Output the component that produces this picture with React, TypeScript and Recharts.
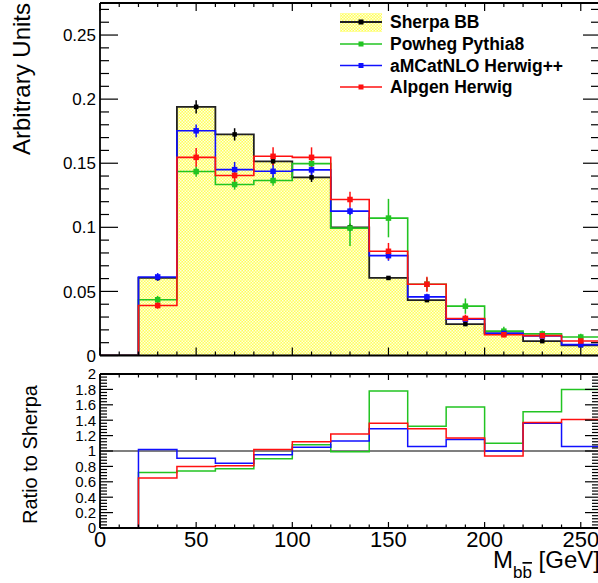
import React from "react";
import { ComposedChart, Line, Area, Scatter, ErrorBar, XAxis, YAxis, ReferenceLine } from "recharts";

// ---- data ----
const binEdges = [0, 20, 40, 60, 80, 100, 120, 140, 160, 180, 200, 220, 240, 260];
const binCenters = [10, 30, 50, 70, 90, 110, 130, 150, 170, 190, 210, 230, 250];

const sherpa = [0, 0.0605, 0.194, 0.1725, 0.1515, 0.139, 0.1, 0.0605, 0.0432, 0.0245, 0.0173, 0.0112, 0.008];
const sherpaErr = [0, 0.002, 0.0052, 0.0048, 0.003, 0.0036, 0.003, 0.0015, 0.0015, 0.0012, 0.001, 0.001, 0.001];

const powheg = [0, 0.0435, 0.1435, 0.1334, 0.1365, 0.1497, 0.0994, 0.1072, 0.0556, 0.0385, 0.019, 0.0169, 0.0144];
const powhegErr = [0, 0.003, 0.004, 0.004, 0.004, 0.004, 0.014, 0.015, 0.005, 0.006, 0.0035, 0.0025, 0.0025];

const amcatnlo = [0, 0.0613, 0.1753, 0.145, 0.1437, 0.1448, 0.1126, 0.0779, 0.0457, 0.0283, 0.0173, 0.0152, 0.0085];
const amcatnloErr = [0, 0.003, 0.005, 0.006, 0.005, 0.005, 0.003, 0.004, 0.0025, 0.002, 0.0015, 0.0015, 0.0015];

const alpgen = [0, 0.039, 0.1546, 0.1404, 0.1554, 0.1546, 0.1217, 0.0813, 0.0556, 0.0289, 0.0162, 0.0155, 0.0113];
const alpgenErr = [0, 0.0025, 0.0073, 0.005, 0.007, 0.0078, 0.006, 0.0065, 0.0058, 0.003, 0.002, 0.002, 0.002];

const ratioPowheg = [0, 0.72, 0.74, 0.77, 0.9, 1.08, 0.99, 1.78, 1.32, 1.57, 1.1, 1.51, 1.8];
const ratioAmcatnlo = [0, 1.02, 0.905, 0.84, 0.95, 1.05, 1.13, 1.29, 1.06, 1.15, 1.0, 1.36, 1.06];
const ratioAlpgen = [0, 0.65, 0.8, 0.81, 1.02, 1.12, 1.22, 1.36, 1.29, 1.17, 0.935, 1.37, 1.41];

// ---- tick labels ----
const xMajorTicks = [0, 50, 100, 150, 200, 250];
const xMajorLabels = ["0", "50", "100", "150", "200", "250"];
const xMinorTicks = Array.from({ length: 27 }, (_, i) => i * 10);
const topYMajor = [0, 0.05, 0.1, 0.15, 0.2, 0.25];
const topYLabels = ["0", "0.05", "0.1", "0.15", "0.2", "0.25"];
const topYMinor = Array.from({ length: 28 }, (_, i) => i / 100);
const ratioYMajor = [0, 0.2, 0.4, 0.6, 0.8, 1, 1.2, 1.4, 1.6, 1.8, 2];
const ratioYLabels = ["0", "0.2", "0.4", "0.6", "0.8", "1", "1.2", "1.4", "1.6", "1.8", "2"];
const ratioYMinor = Array.from({ length: 51 }, (_, i) => Math.round(i * 4) / 100);

const legendNames = ["Sherpa BB", "Powheg Pythia8", "aMCatNLO Herwig++", "Alpgen Herwig"];

const C_SHERPA = "#222222";
const C_GREEN = "#22c422";
const C_BLUE = "#1010ff";
const C_RED = "#ff1010";
const FONT = "'Liberation Sans', Arial, Helvetica, sans-serif";

const stepData = (vals: number[]) =>
  binEdges.map((x, i) => ({ x, y: vals[Math.min(i, vals.length - 1)] }));
const pointData = (vals: number[], errs: number[]) =>
  binCenters.map((x, i) => ({ x, y: vals[i], e: errs[i] })).filter((_, i) => i > 0);

type Orient = "left" | "right" | "top" | "bottom";

const makeTick =
  (orient: Orient, majors: number[], labels: string[] | null, majorLen: number, minorLen: number, fontSize: number) =>
  (props: any) => {
    const { x, y, payload } = props;
    const v = payload.value;
    const idx = majors.findIndex((m) => Math.abs(m - v) < 1e-6);
    const len = idx >= 0 ? majorLen : minorLen;
    let line;
    if (orient === "left") line = <line x1={x} y1={y} x2={x + len} y2={y} stroke="#000" strokeWidth={1.2} />;
    else if (orient === "right") line = <line x1={x} y1={y} x2={x - len} y2={y} stroke="#000" strokeWidth={1.2} />;
    else if (orient === "bottom") line = <line x1={x} y1={y} x2={x} y2={y - len} stroke="#000" strokeWidth={1.2} />;
    else line = <line x1={x} y1={y} x2={x} y2={y + len} stroke="#000" strokeWidth={1.2} />;
    let label = null;
    if (labels && idx >= 0) {
      if (orient === "left")
        label = (
          <text x={x - 4} y={y} dy="0.36em" textAnchor="end" fontSize={fontSize} fontFamily={FONT} fill="#000">
            {labels[idx]}
          </text>
        );
      else if (orient === "bottom")
        label = (
          <text x={x} y={y + 19} textAnchor="middle" fontSize={fontSize} fontFamily={FONT} fill="#000">
            {labels[idx]}
          </text>
        );
    }
    return (
      <g>
        {line}
        {label}
      </g>
    );
  };

const square = (color: string, s: number) => (p: any) =>
  <rect x={p.cx - s / 2} y={p.cy - s / 2} width={s} height={s} fill={color} />;

const axisLine = { stroke: "#000", strokeWidth: 1.8 };

const series = [
  { name: "powheg", vals: powheg, errs: powhegErr, color: C_GREEN },
  { name: "amcatnlo", vals: amcatnlo, errs: amcatnloErr, color: C_BLUE },
  { name: "alpgen", vals: alpgen, errs: alpgenErr, color: C_RED },
];
const ratioSeries = [
  { name: "rpowheg", vals: ratioPowheg, color: C_GREEN },
  { name: "ramcatnlo", vals: ratioAmcatnlo, color: C_BLUE },
  { name: "ralpgen", vals: ratioAlpgen, color: C_RED },
];

const DotPattern = ({ id }: { id: string }) => (
  <pattern id={id} width="3" height="3" patternUnits="userSpaceOnUse">
    <rect width="3" height="3" fill="#ffff5a" />
    <rect x="0" y="0" width="1.5" height="1.5" fill="#ffffe0" />
    <rect x="1.5" y="1.5" width="1.5" height="1.5" fill="#ffffe0" />
  </pattern>
);

function TopPanel() {
  return (
    <ComposedChart width={601} height={366} margin={{ top: 2, right: 0, bottom: 9.5, left: 0 }}>
      <defs>
        <DotPattern id="dotsFill" />
      </defs>
      <XAxis xAxisId="xb" dataKey="x" type="number" domain={[0, 260]} allowDataOverflow height={1}
        ticks={xMinorTicks} interval={0} tickSize={0} tickMargin={0} tickLine={false} axisLine={axisLine}
        tick={makeTick("bottom", xMajorTicks, null, 8, 4, 22)} />
      <XAxis xAxisId="xt" orientation="top" dataKey="x" type="number" domain={[0, 260]} allowDataOverflow height={1}
        ticks={xMinorTicks} interval={0} tickSize={0} tickMargin={0} tickLine={false} axisLine={axisLine}
        tick={makeTick("top", xMajorTicks, null, 8, 4, 22)} />
      <YAxis yAxisId="yl" dataKey="y" type="number" domain={[0, 0.275]} allowDataOverflow width={100}
        ticks={topYMinor} interval={0} tickSize={0} tickMargin={0} tickLine={false} axisLine={axisLine}
        tick={makeTick("left", topYMajor, topYLabels, 18, 9, 17)} />
      <YAxis yAxisId="yr" orientation="right" dataKey="y" type="number" domain={[0, 0.275]} allowDataOverflow width={1}
        ticks={topYMinor} interval={0} tickSize={0} tickMargin={0} tickLine={false} axisLine={axisLine}
        tick={makeTick("right", topYMajor, null, 17, 9, 17)} />
      <Area xAxisId="xb" yAxisId="yl" data={stepData(sherpa)} dataKey="y" type="stepAfter" fill="url(#dotsFill)"
        fillOpacity={1} stroke="none" baseValue={0} isAnimationActive={false} name="Sherpa BB fill" />
      <Line xAxisId="xb" yAxisId="yl" data={stepData(sherpa)} dataKey="y" type="stepAfter" stroke={C_SHERPA}
        strokeWidth={1.8} dot={false} activeDot={false} isAnimationActive={false} name="Sherpa BB" />
      {series.map((s) => (
        <Line key={s.name} xAxisId="xb" yAxisId="yl" data={stepData(s.vals)} dataKey="y" type="stepAfter"
          stroke={s.color} strokeWidth={1.6} dot={false} activeDot={false} isAnimationActive={false} name={s.name} />
      ))}
      <Scatter xAxisId="xb" yAxisId="yl" data={pointData(sherpa, sherpaErr)} dataKey="y" fill={C_SHERPA}
        shape={square("#000", 4.5)} isAnimationActive={false} name="Sherpa points">
        <ErrorBar dataKey="e" direction="y" width={0} stroke="#000" strokeWidth={1.5} />
      </Scatter>
      {series.map((s) => (
        <Scatter key={s.name + "p"} xAxisId="xb" yAxisId="yl" data={pointData(s.vals, s.errs)} dataKey="y"
          fill={s.color} shape={square(s.color, 5.5)} isAnimationActive={false} name={s.name + " points"}>
          <ErrorBar dataKey="e" direction="y" width={0} stroke={s.color} strokeWidth={1.5} />
        </Scatter>
      ))}
    </ComposedChart>
  );
}

function RatioPanel() {
  return (
    <ComposedChart width={601} height={223} margin={{ top: 13, right: 0, bottom: 54, left: 0 }}>
      <XAxis xAxisId="xb" dataKey="x" type="number" domain={[0, 260]} allowDataOverflow height={1}
        ticks={xMinorTicks} interval={0} tickSize={0} tickMargin={0} tickLine={false} axisLine={axisLine}
        tick={makeTick("bottom", xMajorTicks, xMajorLabels, 6, 3.5, 22)} />
      <XAxis xAxisId="xt" orientation="top" dataKey="x" type="number" domain={[0, 260]} allowDataOverflow height={1}
        ticks={xMinorTicks} interval={0} tickSize={0} tickMargin={0} tickLine={false} axisLine={axisLine}
        tick={makeTick("top", xMajorTicks, null, 6, 3.5, 22)} />
      <YAxis yAxisId="yl" dataKey="y" type="number" domain={[0, 2]} allowDataOverflow width={100}
        ticks={ratioYMinor} interval={0} tickSize={0} tickMargin={0} tickLine={false} axisLine={axisLine}
        tick={makeTick("left", ratioYMajor, ratioYLabels, 13, 7, 15)} />
      <YAxis yAxisId="yr" orientation="right" dataKey="y" type="number" domain={[0, 2]} allowDataOverflow width={1}
        ticks={ratioYMinor} interval={0} tickSize={0} tickMargin={0} tickLine={false} axisLine={axisLine}
        tick={makeTick("right", ratioYMajor, null, 15, 8, 15)} />
      <ReferenceLine xAxisId="xb" yAxisId="yl" y={1} stroke="#000" strokeWidth={1.2} />
      {ratioSeries.map((s) => (
        <Line key={s.name} xAxisId="xb" yAxisId="yl" data={stepData(s.vals)} dataKey="y" type="stepAfter"
          stroke={s.color} strokeWidth={1.5} dot={false} activeDot={false} isAnimationActive={false} name={s.name} />
      ))}
    </ComposedChart>
  );
}

function Overlay() {
  const rows = [22, 44, 65.5, 87];
  const colors = [C_SHERPA, C_GREEN, C_BLUE, C_RED];
  return (
    <svg width={598} height={583} style={{ position: "absolute", left: 0, top: 0, pointerEvents: "none" }}>
      <defs>
        <DotPattern id="dotsLegend" />
      </defs>
      <text transform="translate(30,3) rotate(-90)" textAnchor="end" fontSize={24} fontFamily={FONT} fill="#000">
        Arbitrary Units
      </text>
      <text transform="translate(37,385) rotate(-90)" textAnchor="end" fontSize={20} fontFamily={FONT} fill="#000">
        Ratio to Sherpa
      </text>
      <text x={493} y={568} fontSize={24} fontFamily={FONT} fill="#000">
        M
        <tspan fontSize={17} dy={10}>b</tspan>
        <tspan fontSize={17} style={{ textDecoration: "overline" }}>b</tspan>
        <tspan fontSize={24} dy={-10}> [GeV]</tspan>
      </text>
      {rows.map((cy, i) => (
        <g key={i}>
          {i === 0 && <rect x={340} y={13} width={42} height={19} fill="url(#dotsLegend)" />}
          <line x1={340} y1={cy} x2={382} y2={cy} stroke={colors[i]} strokeWidth={i === 0 ? 1.8 : 1.5} />
          <rect x={361 - 2.5} y={cy - 2.5} width={5} height={5} fill={i === 0 ? "#000" : colors[i]} />
          <text x={390} y={cy + 6.3} fontSize={17.5} fontWeight="bold" fontFamily={FONT} fill="#000">
            {legendNames[i]}
          </text>
        </g>
      ))}
    </svg>
  );
}

export default function App() {
  return (
    <div style={{ position: "absolute", left: 0, top: 0, width: 598, height: 583, overflow: "hidden", background: "#fff", fontFamily: FONT }}>
      <div style={{ position: "absolute", left: 0, top: 0 }}>
        <TopPanel />
      </div>
      <div style={{ position: "absolute", left: 0, top: 360 }}>
        <RatioPanel />
      </div>
      <Overlay />
    </div>
  );
}
